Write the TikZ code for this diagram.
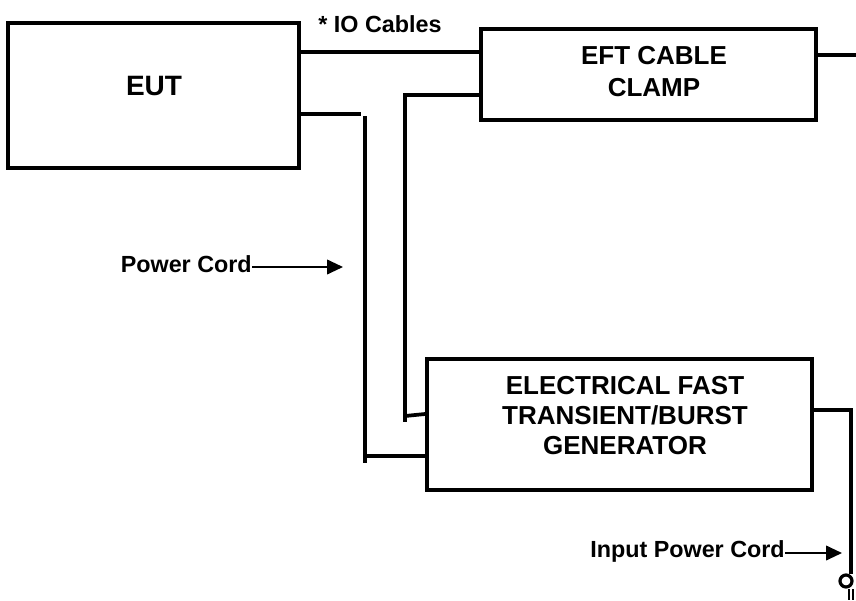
\documentclass[tikz,border=0pt]{standalone}
\usepackage{fontspec}
\setmainfont{Liberation Sans}
\usetikzlibrary{arrows.meta,fit}

\begin{document}
\begin{tikzpicture}[x=0.75pt, y=-0.75pt,  % pixel units, y down
    box/.style={draw, line width=2.8pt, inner sep=0pt},
    wire/.style={line width=2.8pt},
    lbl/.style={font=\bfseries\fontsize{17.5}{21}\selectfont, inner sep=0pt},
    boxtxt/.style={font=\bfseries\fontsize{19.5}{24}\selectfont, inner sep=0pt, align=center},
    tag/.style={line width=1.4pt, -{Triangle[length=12pt, width=11pt]}}]
  \useasboundingbox (0,0) rectangle (856,600);
  % blocks
  \node[box, fit={(8,23) (299,168)}] (eut) {};
  \node[box, fit={(481,29) (816,120)}] (clamp) {};
  \node[box, fit={(427,359) (812,490)}] (gen) {};
  \node[font=\bfseries\fontsize{21}{25}\selectfont, inner sep=0pt] (euttxt) at (154,86) {EUT};
  \node[boxtxt] (clamptxt) at (654,72) {EFT CABLE\\CLAMP};
  \node[boxtxt, font=\bfseries\fontsize{19.5}{22.5}\selectfont] (gentxt) at (625,416)
    {ELECTRICAL FAST\\TRANSIENT/BURST\\GENERATOR};
  % labels
  \node[lbl, anchor=base] (io) at (380,32) {* IO Cables};
  \node[lbl, anchor=base east] (pc) at (252,272) {Power Cord};
  \node[lbl, anchor=base east] (ipc) at (785,557) {Input Power Cord};
  \coordinate (pcend) at (343,267);
  \coordinate (ipcend) at (842,553);
  \draw[tag] (pc.east |- pcend) -- (pcend);
  \draw[tag] (ipc.east |- ipcend) -- (ipcend);
  % cables
  \coordinate (cout) at (856,55);
  \coordinate (ptop) at (365,116);
  \coordinate (pbot) at (365,463);
  \coordinate (ctop) at (405,95);
  \coordinate (cbot) at (405,422);
  \coordinate (mains) at (851,574);
  \draw[wire] (eut.east |- 0,52) -- (clamp.west |- 0,52);
  \draw[wire] (clamp.east |- cout) -- (cout);
  \draw[wire] (eut.east |- 0,114) -- (361,114);
  \draw[wire] (ptop) -- (pbot);
  \draw[wire] (365,456) -- (gen.west |- 0,456);
  \draw[wire] (clamp.west |- ctop) -- (ctop) -- (cbot);
  \draw[wire] (405,416) -- (gen.west |- 0,414);
  \draw[wire] (gen.east |- 0,410) -- (mains |- 0,410) -- (mains);
  % plug
  \draw[line width=2.4pt] (846,581) circle[radius=6];
  \draw[line width=1.8pt] (849,589) -- (849,600) (853,589) -- (853,600);
\end{tikzpicture}
\end{document}
